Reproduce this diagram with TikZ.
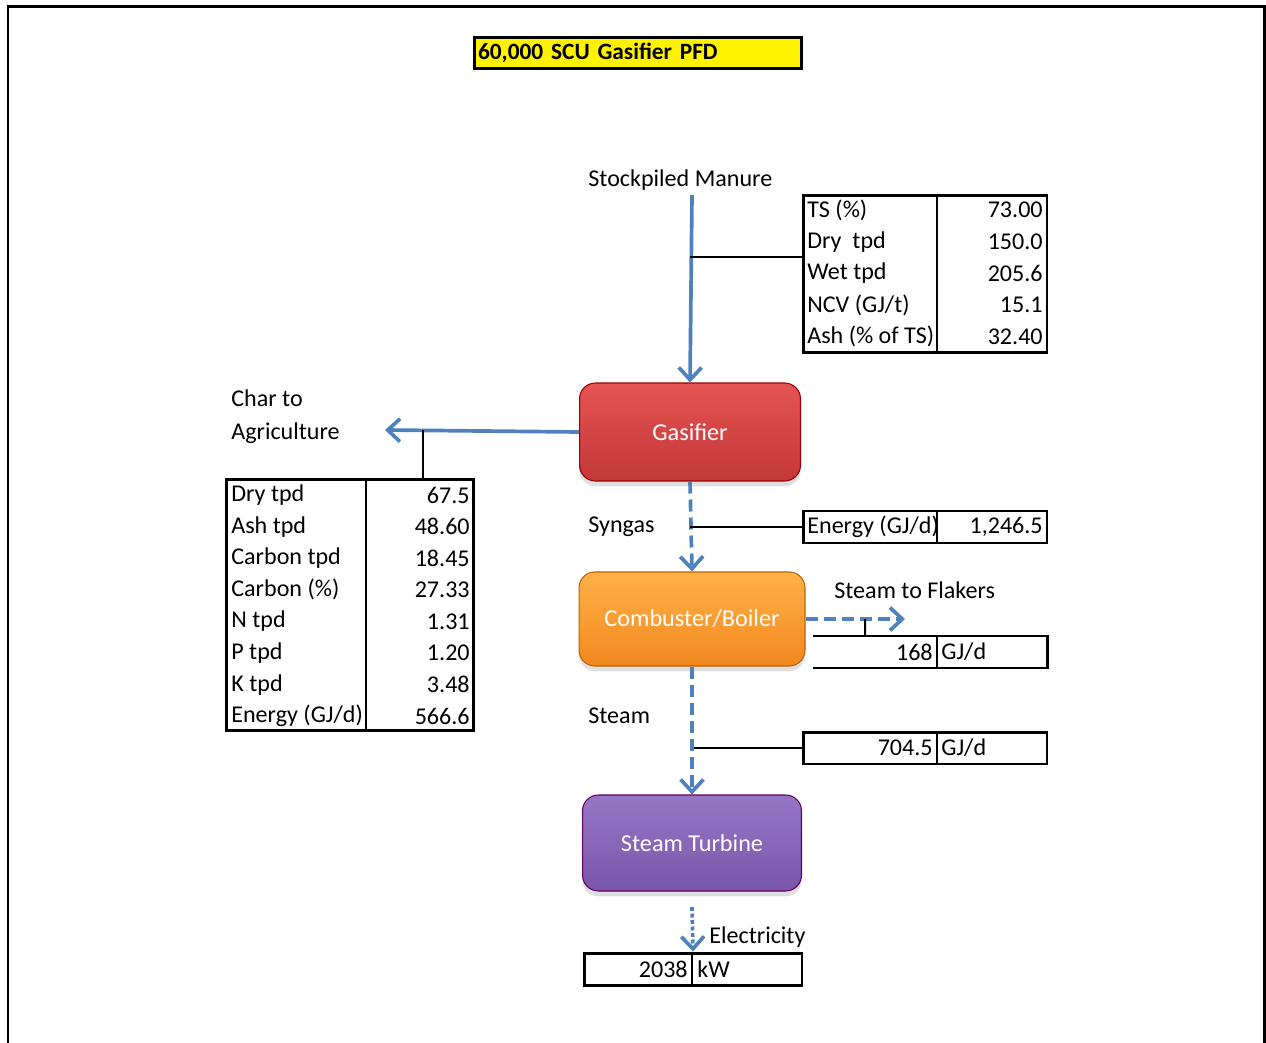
\documentclass[tikz,border=0pt]{standalone}
\usepackage{fontspec}
\setmainfont{Carlito}
\usetikzlibrary{positioning,arrows.meta,shadows,calc}
\definecolor{flowblue}{RGB}{79,129,189}
\tikzset{
unit/.style={draw=#1!75!black, line width=0.6pt, rounded corners=9pt,
  text=white, font=\fontsize{13.8}{16}\selectfont,
  drop shadow={opacity=0.25, shadow xshift=0pt, shadow yshift=-3pt}},
flow/.style={draw=flowblue, line width=2.1pt, -{Straight Barb[length=7pt,width=13pt,line width=2.1pt]}},
syn/.style={flow, dash pattern=on 0.24cm off 0.12cm},
elec/.style={flow, dash pattern=on 0.08cm off 0.05cm},
tbl/.style={draw, line width=1.7pt, inner sep=0pt},
lbl/.style={inner sep=0pt, anchor=west},
val/.style={inner sep=0pt, anchor=east},
tie/.style={draw, line width=1.1pt},
}

\begin{document}
\begin{tikzpicture}[x=0.02cm, y=-0.02cm, font=\fontsize{13.7}{16}\selectfont]
\useasboundingbox (0,0) rectangle (1266,1043);
\draw[line width=0.06cm] (8,1043) -- (8,7) -- (1264,7) -- (1264,1043);

% title
\node[draw, line width=1.7pt, fill=yellow, text width=6.4cm, inner xsep=0.08cm,
  minimum height=0.62cm, align=left, font=\fontsize{13.3}{15}\selectfont\bfseries]
  (title) at (638,53) {60,000 SCU Gasifier PFD};

% process units
\node[unit=red!80!black, top color={rgb,255:red,228;green,84;blue,82}, bottom color={rgb,255:red,196;green,56;blue,56},
  minimum width=4.42cm, minimum height=1.96cm] (gas) at (690,432) {Gasifier};
\node[unit=orange, top color={rgb,255:red,255;green,178;blue,72}, bottom color={rgb,255:red,242;green,136;blue,30},
  minimum width=4.52cm, minimum height=1.88cm] (comb) at (692,619) {Combuster/Boiler};
\node[unit=violet, top color={rgb,255:red,152;green,118;blue,198}, bottom color={rgb,255:red,122;green,86;blue,168},
  minimum width=4.38cm, minimum height=1.92cm] (turb) at (692,843) {Steam Turbine};

% stream labels
\node[lbl] (manure) at (588,180) {Stockpiled Manure};
\node[lbl, align=left] (char) at (231,417) {Char to\\[3pt]Agriculture};
\node[lbl] (syngas) at (588,527) {Syngas};
\node[lbl] (flakers) at (834,590) {Steam to Flakers};
\node[lbl] (steam) at (588,716) {Steam};
\node[lbl] (power) at (709,937) {Electricity};

% tables
\node[tbl, minimum width=4.88cm, minimum height=3.16cm] (feedtab) at (925,274) {};
\draw[line width=1.1pt] (937,195) -- (937,353);
\foreach \lab/\val [count=\i] in {TS (\%)/73.00, Dry\ \ tpd/150.0, Wet tpd/205.6, {NCV (GJ/t)}/15.1, Ash (\% of TS)/32.40}{
  \node[lbl] at (807,{210+31.7*(\i-1)}) {\lab};
  \node[val] at (1043,{210+31.7*(\i-1)}) {\val};
}

\node[tbl, minimum width=4.96cm, minimum height=5.04cm] (chartab) at (350,605) {};
\draw[line width=1.1pt] (366,479) -- (366,731);
\foreach \lab/\val [count=\i] in {Dry tpd/67.5, Ash tpd/48.60, Carbon tpd/18.45, Carbon (\%)/27.33,
  N tpd/1.31, P tpd/1.20, K tpd/3.48, {Energy (GJ/d)}/566.6}{
  \node[lbl] at (231,{495+31.6*(\i-1)}) {\lab};
  \node[val] at (470,{495+31.6*(\i-1)}) {\val};
}

\node[tbl, minimum width=4.88cm, minimum height=0.64cm] (syntab) at (925,527) {};
\draw[line width=1.1pt] (937,511) -- (937,543);
\node[lbl] at (807,527) {Energy (GJ/d)};
\node[val] at (1043,527) {1,246.5};

\draw[line width=1.7pt] (813,636) -- (1047,636) -- (1047,668) -- (813,668);
\draw[line width=1.1pt] (937,636) -- (937,668);
\coordinate (flaktab) at (865,636);
\node[val] at (933,652) {168};
\node[lbl] at (941,652) {GJ/d};

\node[tbl, minimum width=4.88cm, minimum height=0.64cm] (steamtab) at (925,748) {};
\draw[line width=1.1pt] (937,732) -- (937,764);
\node[val] at (933,748) {704.5};
\node[lbl] at (941,748) {GJ/d};

\node[tbl, minimum width=4.36cm, minimum height=0.64cm] (powertab) at (693,969) {};
\draw[line width=1.1pt] (692,953) -- (692,985);
\node[val] at (688,969) {2038};
\node[lbl] at (697,969) {kW};

% streams
\coordinate (feed) at (692,195);
\coordinate (feedjoin) at (690,257);
\coordinate (charend) at (385,430);
\coordinate (charjoin) at (423,430);
\coordinate (synjoin) at (690,527);
\coordinate (flakend) at (905,619);
\coordinate (steamjoin) at (694,748);
\coordinate (turbout) at (692,907);

\path[flow] (feed) -- (gas.north);
\path[flow] (gas.west) -- (charend);
\path[syn] (gas.south) -- (comb.north);
\path[syn] (comb.east) -- (flakend);
\path[syn] (comb.south) -- (turb.north);
\path[elec] (turbout) -- (powertab.north);

% tie lines to the tables
\path[tie] (feedjoin) -- (feedjoin -| feedtab.west);
\path[tie] (charjoin) -- (charjoin |- chartab.north);
\path[tie] (synjoin) -- (syntab.west);
\path[tie] ($(comb.east)!0.6!(flakend)$) -- (flaktab);
\path[tie] (steamjoin) -- (steamtab.west);
\end{tikzpicture}
\end{document}
